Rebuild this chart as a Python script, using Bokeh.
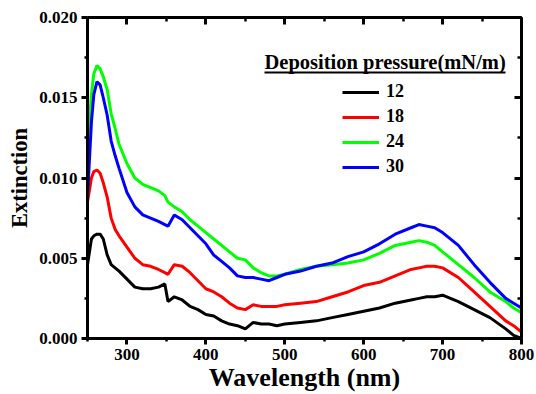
from bokeh.plotting import figure
from bokeh.models import (Range1d, LinearAxis, Legend, LegendItem, Label, BoxAnnotation,
                          SingleIntervalTicker, PrintfTickFormatter, CustomLabelingPolicy)
from bokeh.embed import file_html
from bokeh.resources import INLINE

# ---- data ----
wavelength = [250, 255, 258, 262, 266, 270, 275, 280, 285, 290, 300, 310, 320, 330, 340, 348, 352,
              360, 370, 380, 390, 400, 410, 420, 430, 440, 450, 460, 470, 480, 490, 500, 520, 540,
              560, 580, 600, 620, 640, 660, 670, 680, 690, 700, 720, 740, 760, 780, 790, 800]

ext_12 = [0.0046, 0.0062, 0.0064, 0.0065, 0.0065, 0.0062, 0.0052, 0.0046, 0.0044, 0.0042, 0.0037,
          0.0032, 0.0031, 0.0031, 0.0032, 0.0034, 0.0023, 0.0026, 0.0024, 0.0020, 0.0018, 0.0015,
          0.0014, 0.0011, 0.0009, 0.0008, 0.0006, 0.0010, 0.0009, 0.0009, 0.0008, 0.0009, 0.0010,
          0.0011, 0.0013, 0.0015, 0.0017, 0.0019, 0.0022, 0.0024, 0.0025, 0.0026, 0.0026, 0.0027,
          0.0023, 0.0018, 0.0013, 0.0006, 0.0002, 0.0000]

ext_18 = [0.0085, 0.0100, 0.0104, 0.0105, 0.0103, 0.0097, 0.0088, 0.0075, 0.0068, 0.0064, 0.0057,
          0.0050, 0.0046, 0.0045, 0.0043, 0.0041, 0.0040, 0.0046, 0.0045, 0.0041, 0.0036, 0.0031,
          0.0029, 0.0026, 0.0022, 0.0019, 0.0018, 0.0021, 0.0020, 0.0020, 0.0020, 0.0021, 0.0022,
          0.0023, 0.0026, 0.0029, 0.0033, 0.0035, 0.0039, 0.0043, 0.0044, 0.0045, 0.0045, 0.0044,
          0.0038, 0.0029, 0.0020, 0.0011, 0.0008, 0.0004]

ext_24 = [0.0120, 0.0152, 0.0165, 0.0170, 0.0168, 0.0163, 0.0155, 0.0140, 0.0131, 0.0121, 0.0109,
          0.0100, 0.0096, 0.0094, 0.0092, 0.0089, 0.0085, 0.0082, 0.0079, 0.0074, 0.0070, 0.0066,
          0.0062, 0.0058, 0.0054, 0.0050, 0.0049, 0.0044, 0.0041, 0.0039, 0.0039, 0.0040, 0.0043,
          0.0045, 0.0046, 0.0047, 0.0049, 0.0053, 0.0058, 0.0060, 0.0061, 0.0060, 0.0058, 0.0054,
          0.0046, 0.0038, 0.0029, 0.0023, 0.0019, 0.0016]

ext_30 = [0.0088, 0.0135, 0.0152, 0.0160, 0.0158, 0.0150, 0.0139, 0.0123, 0.0114, 0.0106, 0.0091,
          0.0082, 0.0077, 0.0075, 0.0073, 0.0071, 0.0070, 0.0077, 0.0074, 0.0069, 0.0064, 0.0059,
          0.0052, 0.0048, 0.0044, 0.0039, 0.0038, 0.0038, 0.0037, 0.0036, 0.0038, 0.0040, 0.0042,
          0.0045, 0.0047, 0.0051, 0.0054, 0.0059, 0.0065, 0.0069, 0.0071, 0.0070, 0.0069, 0.0066,
          0.0058, 0.0046, 0.0035, 0.0025, 0.0022, 0.0019]

series_labels = ["12", "18", "24", "30"]
series_colors = ["#000000", "#ff0000", "#00ff00", "#0000ff"]
series_values = [ext_12, ext_18, ext_24, ext_30]

FONT = "Liberation Serif"

p = figure(width=536, height=394, output_backend="svg", toolbar_location=None,
           x_range=Range1d(250, 800), y_range=Range1d(0, 0.020),
           min_border_left=87, min_border_right=15, min_border_top=17, min_border_bottom=54)
p.outline_line_color = None
p.xgrid.visible = False
p.ygrid.visible = False
p.background_fill_color = "white"
p.border_fill_color = "white"

xticker = SingleIntervalTicker(interval=100, num_minor_ticks=2)
yticker = SingleIntervalTicker(interval=0.005, num_minor_ticks=2)

hide_labels = CustomLabelingPolicy(code="""
    for (let i = 0; i < indices.size; i++) { indices.unset(i) }
    return indices
""")


def style_axis(ax, outside=True):
    ax.axis_line_width = 3
    ax.axis_line_color = "black"
    ax.major_tick_line_width = 3
    ax.minor_tick_line_width = 2.5
    ax.major_tick_line_color = "black"
    ax.minor_tick_line_color = "black"
    if outside:
        ax.major_tick_out, ax.major_tick_in = 6, 0
        ax.minor_tick_out, ax.minor_tick_in = 3, 0
    else:
        ax.major_tick_out, ax.major_tick_in = 0, 7
        ax.minor_tick_out, ax.minor_tick_in = 0, 4
    ax.major_label_text_font = FONT
    ax.major_label_text_font_style = "bold"
    ax.major_label_text_font_size = "17px"
    ax.major_label_text_color = "black"
    ax.axis_label_text_font = FONT
    ax.axis_label_text_font_style = "bold"
    ax.axis_label_text_color = "black"


xa = p.xaxis[0]
xa.ticker = xticker
style_axis(xa)
xa.major_label_standoff = 4
xa.axis_label = "Wavelength (nm)"
xa.axis_label_text_font_size = "26px"
xa.axis_label_standoff = 0

ya = p.yaxis[0]
ya.ticker = yticker
ya.formatter = PrintfTickFormatter(format="%.3f")
style_axis(ya)
ya.major_label_standoff = 4
ya.axis_label = "Extinction"
ya.axis_label_text_font_size = "22.5px"
ya.axis_label_standoff = 4

top = LinearAxis(ticker=SingleIntervalTicker(interval=100, num_minor_ticks=2))
style_axis(top, outside=False)
top.major_label_text_font_size = "1px"
top.major_label_standoff = 0
top.major_label_policy = hide_labels
p.add_layout(top, "above")

right = LinearAxis(ticker=SingleIntervalTicker(interval=0.005, num_minor_ticks=2))
style_axis(right, outside=False)
right.major_label_text_font_size = "1px"
right.major_label_standoff = 0
right.major_label_policy = hide_labels
p.add_layout(right, "right")

items = []
for lab, col, vals in zip(series_labels, series_colors, series_values):
    r = p.line(wavelength, vals, line_color=col, line_width=3)
    items.append(LegendItem(label=lab, renderers=[r]))

legend = Legend(items=items, location=(255, 161), border_line_color=None,
                background_fill_alpha=0, padding=0, margin=0, spacing=4,
                glyph_width=37, glyph_height=20, label_height=20, label_standoff=7,
                label_text_font=FONT, label_text_font_style="bold", label_text_font_size="18px",
                label_text_color="black")
p.add_layout(legend)

title = Label(x=177, y=277, x_units="screen", y_units="screen",
              text="Deposition pressure(mN/m)", text_font=FONT, text_font_style="bold",
              text_font_size="20.5px", text_color="black", text_baseline="alphabetic")
p.add_layout(title)

underline = BoxAnnotation(left=177, right=418, bottom=265, top=267,
                          left_units="screen", right_units="screen",
                          bottom_units="screen", top_units="screen",
                          fill_color="black", fill_alpha=1, line_color=None)
p.add_layout(underline)

open("out.html", "w").write(file_html(p, INLINE))
